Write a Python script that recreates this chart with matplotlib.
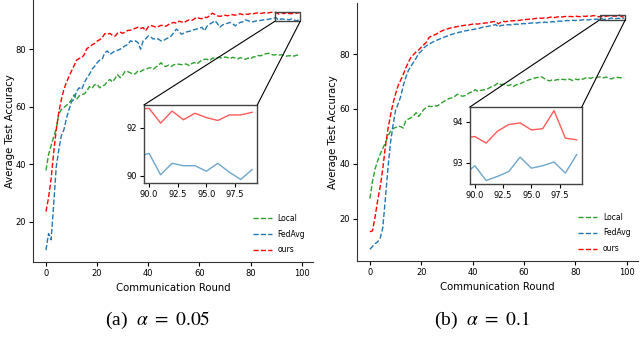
import matplotlib
matplotlib.use("Agg")
import matplotlib.pyplot as plt
import numpy as np
from matplotlib.patches import Rectangle, ConnectionPatch
from matplotlib.ticker import MultipleLocator

plt.rcParams["mathtext.fontset"] = "stix"

rounds = list(range(100))

# (a) alpha = 0.05
local_a = [
    37.9, 43.4, 46.5, 49.5, 52.5, 57.5, 59.0, 59.7, 60.5, 61.2,
    62.5, 64.2, 62.6, 63.8, 64.2, 64.5, 65.5, 67.0, 66.4, 67.6,
    67.8, 66.6, 67.2, 67.6, 68.8, 69.5, 68.6, 69.8, 71.2, 70.1,
    71.0, 72.4, 72.2, 71.8, 71.3, 71.5, 72.5, 72.2, 72.8, 73.0,
    73.4, 73.6, 73.1, 73.8, 74.4, 75.3, 74.2, 74.0, 74.5, 74.0,
    74.6, 74.8, 74.8, 74.6, 74.9, 74.8, 74.3, 75.0, 75.4, 74.8,
    75.6, 76.2, 76.5, 76.5, 76.0, 76.8, 77.0, 77.1, 77.1, 76.9,
    77.3, 77.1, 76.7, 77.2, 76.9, 76.6, 77.1, 76.8, 76.5, 76.9,
    76.6, 77.3, 77.4, 77.8, 77.7, 78.2, 78.4, 78.6, 78.2, 78.0,
    78.1, 77.9, 78.1, 77.9, 77.6, 77.7, 77.8, 77.6, 77.9, 78.0,
]
fedavg_a = [
    10.2, 16.0, 13.8, 26.0, 39.0, 45.0, 50.0, 52.0, 56.0, 59.0,
    61.8, 62.6, 65.5, 66.6, 66.0, 68.4, 70.0, 71.3, 73.0, 74.0,
    75.3, 76.2, 76.6, 78.8, 79.4, 78.2, 78.8, 79.4, 79.6, 80.0,
    80.6, 81.2, 81.6, 82.9, 82.6, 82.9, 82.3, 80.0, 82.9, 83.6,
    84.6, 84.2, 83.5, 83.8, 83.5, 82.9, 83.0, 83.6, 84.0, 84.6,
    85.8, 87.0, 86.2, 85.2, 85.6, 86.0, 86.2, 86.4, 86.8, 87.0,
    87.3, 87.6, 86.4, 88.0, 88.7, 89.2, 89.9, 89.0, 87.6, 88.4,
    88.7, 89.0, 89.3, 88.9, 88.1, 88.8, 89.3, 89.5, 90.2, 89.9,
    89.6, 89.5, 89.8, 89.9, 90.0, 90.2, 90.2, 90.4, 90.6, 90.8,
    90.93, 90.04, 90.52, 90.42, 90.42, 90.19, 90.52, 90.15, 89.85, 90.26,
]
ours_a = [
    23.6, 28.5, 35.0, 44.0, 52.0, 58.0, 62.5, 66.0, 68.5, 70.5,
    72.5, 74.3, 76.2, 76.8, 77.0, 78.2, 80.2, 80.8, 81.5, 82.0,
    82.8, 83.3, 84.0, 85.4, 85.2, 85.5, 84.8, 84.5, 85.6, 85.9,
    85.5, 86.0, 86.5, 86.6, 86.9, 87.3, 87.6, 87.2, 87.5, 86.4,
    87.8, 88.2, 88.0, 87.6, 87.9, 88.3, 88.1, 88.0, 88.6, 89.0,
    89.3, 89.0, 89.7, 89.5, 89.2, 89.8, 90.2, 90.0, 90.5, 91.1,
    90.7, 90.6, 91.1, 91.0, 91.6, 92.5, 92.1, 91.6, 91.4, 91.6,
    91.8, 91.6, 91.9, 92.0, 91.8, 92.1, 92.3, 92.0, 92.2, 92.1,
    92.4, 92.3, 92.5, 92.6, 92.4, 92.6, 92.7, 92.6, 92.8, 92.78,
    92.80, 92.19, 92.69, 92.33, 92.60, 92.42, 92.30, 92.53, 92.53, 92.64,
]

# (b) alpha = 0.1
local_b = [
    27.3, 33.5, 38.0, 41.0, 43.5, 45.5, 47.6, 50.0, 51.8, 52.8,
    53.2, 53.7, 53.5, 53.0, 55.8, 56.3, 56.7, 57.5, 58.6, 57.2,
    58.5, 59.8, 60.4, 61.0, 60.8, 61.2, 61.0, 61.5, 62.2, 62.8,
    63.4, 63.8, 64.0, 64.5, 65.3, 65.0, 64.6, 64.8, 65.4, 66.0,
    66.2, 67.0, 66.4, 66.7, 66.9, 67.0, 67.4, 67.9, 68.2, 68.8,
    69.5, 68.8, 69.0, 68.6, 68.5, 68.9, 68.2, 68.8, 68.9, 69.4,
    69.8, 70.2, 70.6, 70.9, 71.2, 71.4, 71.6, 71.6, 71.0, 70.5,
    70.2, 70.6, 70.4, 70.7, 70.5, 70.8, 70.6, 71.0, 70.7, 70.3,
    70.9, 70.6, 71.1, 70.8, 71.3, 71.4, 71.1, 71.5, 71.4, 71.6,
    71.7, 71.3, 71.6, 71.2, 70.9, 71.3, 71.5, 71.4, 71.3, 71.1,
]
fedavg_b = [
    8.8, 9.8, 10.8, 11.5, 12.8, 16.5, 27.0, 38.0, 47.5, 54.0,
    59.5, 61.8, 64.5, 68.5, 71.5, 74.0, 75.5, 77.0, 78.5, 80.2,
    81.0, 82.2, 83.0, 83.6, 84.1, 84.6, 85.0, 85.4, 85.8, 86.2,
    86.5, 86.9, 87.2, 87.5, 87.7, 88.0, 88.1, 88.4, 88.6, 88.8,
    88.9, 89.1, 89.2, 89.5, 89.8, 89.9, 90.1, 90.3, 90.5, 90.7,
    89.9, 90.4, 90.5, 90.6, 90.7, 90.6, 90.8, 90.9, 90.8, 91.0,
    91.1, 91.0, 91.2, 91.3, 91.4, 91.3, 91.5, 91.4, 91.6, 91.5,
    91.6, 91.8, 91.7, 91.9, 92.0, 91.9, 92.1, 92.2, 92.1, 92.3,
    92.2, 92.4, 92.3, 92.5, 92.5, 92.4, 92.6, 92.5, 92.7, 92.7,
    92.93, 92.57, 92.67, 92.79, 93.14, 92.87, 92.93, 93.02, 92.75, 93.20,
]
ours_b = [
    15.2, 15.5, 20.5, 26.5, 31.5, 38.0, 46.0, 52.5, 57.5, 62.0,
    65.5, 68.5, 70.5, 72.5, 75.0, 77.0, 78.8, 79.8, 80.8, 81.5,
    82.5, 83.4, 84.3, 86.0, 86.6, 86.9, 87.3, 88.0, 88.4, 88.8,
    89.1, 89.4, 89.6, 89.8, 90.0, 90.2, 90.3, 90.5, 90.4, 90.7,
    90.9, 91.0, 90.9, 91.1, 91.2, 91.3, 91.4, 91.6, 91.8, 91.9,
    91.0, 91.6, 91.9, 91.8, 92.0, 92.1, 92.1, 92.3, 92.2, 92.4,
    92.5, 92.6, 92.7, 92.6, 92.9, 93.0, 93.1, 93.0, 93.2, 93.1,
    93.4, 93.5, 93.3, 93.5, 93.6, 93.5, 93.7, 93.6, 93.7, 93.6,
    93.8, 93.7, 93.6, 93.8, 93.7, 93.9, 93.8, 94.0, 93.9, 93.6,
    93.64, 93.48, 93.77, 93.93, 93.97, 93.80, 93.83, 94.27, 93.60, 93.56,
]

panels = [
    ("(a)  $\\alpha\\ =\\ 0.05$", local_a, fedavg_a, ours_a, 2),
    ("(b)  $\\alpha\\ =\\ 0.1$", local_b, fedavg_b, ours_b, 1),
]

c_local = "#2ca02c"
c_fedavg = "#1f77b4"
c_ours = "#ff0000"

fig = plt.figure(figsize=(6.4, 3.63), dpi=100)
main_pos = [[0.052, 0.278, 0.437, 0.722], [0.558, 0.281, 0.439, 0.711]]
ins_pos = [[0.225, 0.496, 0.177, 0.215], [0.734, 0.493, 0.175, 0.212]]
ylab_x = [-0.064, -0.068]
cap_x = [0.247, 0.753]

for i, (cap, loc, fed, ours, ystep) in enumerate(panels):
    ax = fig.add_axes(main_pos[i])
    ax.plot(rounds, loc, "--", color=c_local, lw=1, label="Local")
    ax.plot(rounds, fed, "--", color=c_fedavg, lw=1, label="FedAvg")
    ax.plot(rounds, ours, "--", color=c_ours, lw=1, label="ours")
    ax.spines["top"].set_visible(False)
    ax.spines["right"].set_visible(False)
    for s in ("left", "bottom"):
        ax.spines[s].set_color("#333333")
    ax.xaxis.set_major_locator(MultipleLocator(20))
    ax.yaxis.set_major_locator(MultipleLocator(20))
    ax.tick_params(labelsize=6, length=3, width=0.8, pad=2)
    ax.set_xlabel("Communication Round", fontsize=7.3)
    ax.set_ylabel("Average Test Accuracy", fontsize=7.3)
    ax.xaxis.set_label_coords(0.5, -0.08)
    ax.yaxis.set_label_coords(ylab_x[i], 0.5)
    ax.legend(loc="lower right", frameon=False, fontsize=5.5,
              handlelength=2.4, labelspacing=0.9, borderaxespad=0.6)

    # zoomed inset of the last rounds
    axins = fig.add_axes(ins_pos[i])
    axins.plot(rounds, fed, "-", color=c_fedavg, lw=1, alpha=0.65)
    axins.plot(rounds, ours, "-", color=c_ours, lw=1, alpha=0.65)
    tail = fed[90:] + ours[90:]
    lo, hi = min(tail), max(tail)
    pad = (hi - lo) * 0.05
    x0, x1 = 89.55, 99.45
    y0, y1 = lo - pad, hi + pad
    axins.set_xlim(x0, x1)
    axins.set_ylim(y0, y1)
    axins.xaxis.set_major_locator(MultipleLocator(2.5))
    axins.yaxis.set_major_locator(MultipleLocator(ystep))
    axins.tick_params(labelsize=6, length=3, width=0.8, pad=2)
    for s in axins.spines.values():
        s.set_color("#444444")
        s.set_linewidth(1)

    ax.add_patch(Rectangle((x0, y0), x1 - x0, y1 - y0, fill=False,
                           edgecolor="#444444", lw=1, zorder=5))
    for xa, xb in ((0, x0), (1, x1)):
        con = ConnectionPatch(xyA=(xa, 1), coordsA=axins.transAxes,
                              xyB=(xb, y0), coordsB=ax.transData,
                              color="black", lw=0.8)
        fig.add_artist(con)

    fig.text(cap_x[i], 0.118, cap, ha="center", va="center",
             fontsize=14, family="Liberation Serif")

plt.savefig("out.png", dpi=100)
